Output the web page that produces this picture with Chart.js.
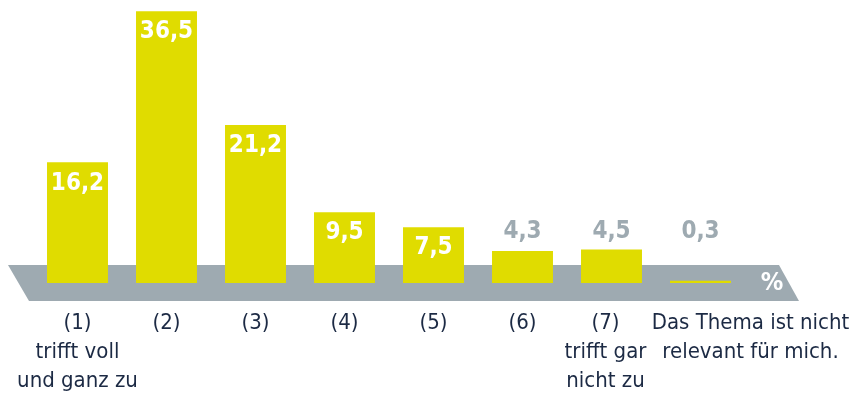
<!DOCTYPE html>
<html lang="de">
<head>
<meta charset="utf-8">
<script src="https://cdn.jsdelivr.net/npm/chart.js@4"></script>
<style>
    html, body { margin: 0; padding: 0; background: #ffffff; }
    canvas { display: block; }
</style>
</head>
<body>
<canvas id="myChart" width="863" height="394"></canvas>
<script>
// 응답 분포 (%)
const categories = ['(1)', '(2)', '(3)', '(4)', '(5)', '(6)', '(7)', 'n/a'];
const values = [16.2, 36.5, 21.2, 9.5, 7.5, 4.3, 4.5, 0.3];
const tickLabels = [
    ['(1)', 'trifft voll', 'und ganz zu'],
    ['(2)'],
    ['(3)'],
    ['(4)'],
    ['(5)'],
    ['(6)'],
    ['(7)', 'trifft gar', 'nicht zu'],
    ['Das Thema ist nicht', 'relevant für mich.']
];
const unitLabel = '%';

const yellow = '#e0dc00';
const grey = '#9eaab1';
const navy = '#1c2a44';
const fontFamily = '"DejaVu Sans Condensed", "Liberation Sans Narrow", "Roboto", sans-serif';

function formatValue(v) {
    return v.toFixed(1).replace('.', ',');
}

// 막대 뒤 회색 평행사변형 밴드
const bandPlugin = {
    id: 'band',
    beforeDatasetsDraw(chart) {
        const { ctx, scales: { x, y } } = chart;
        const base = y.getPixelForValue(0);
        const top = base - 18, bottom = base + 18;
        ctx.save();
        ctx.fillStyle = grey;
        ctx.beginPath();
        ctx.moveTo(x.left - 25, top);
        ctx.lineTo(x.right + 34, top);
        ctx.lineTo(x.right + 54, bottom);
        ctx.lineTo(x.left - 4, bottom);
        ctx.closePath();
        ctx.fill();

        ctx.fillStyle = '#ffffff';
        ctx.font = 'bold 25px ' + fontFamily;
        ctx.textAlign = 'center';
        ctx.textBaseline = 'middle';
        ctx.fillText(unitLabel, x.right + 27, base);
        ctx.restore();
    }
};

// 값 라벨 + 카테고리 라벨
const labelPlugin = {
    id: 'labels',
    afterDatasetsDraw(chart) {
        const { ctx, scales: { x, y } } = chart;
        const meta = chart.getDatasetMeta(0);
        const base = y.getPixelForValue(0);
        ctx.save();
        ctx.textAlign = 'center';
        ctx.textBaseline = 'middle';

        ctx.font = 'bold 24px ' + fontFamily;
        meta.data.forEach((bar, i) => {
            const v = values[i];
            if (v >= 5) {
                ctx.fillStyle = '#ffffff';
                ctx.fillText(formatValue(v), bar.x, bar.y + 21);
            } else {
                ctx.fillStyle = grey;
                ctx.fillText(formatValue(v), bar.x, base - 51);
            }
        });

        ctx.fillStyle = navy;
        ctx.font = '22px ' + fontFamily;
        tickLabels.forEach((lines, i) => {
            let cx = x.getPixelForValue(i);
            if (i === tickLabels.length - 1) cx += 50;
            if (i === tickLabels.length - 2) cx -= 6;
            lines.forEach((line, j) => {
                ctx.fillText(line, cx, base + 40 + j * 29);
            });
        });
        ctx.restore();
    }
};

const ctx = document.getElementById('myChart').getContext('2d');
new Chart(ctx, {
    type: 'bar',
    data: {
        labels: categories,
        datasets: [{
            data: values,
            backgroundColor: yellow,
            borderWidth: 0,
            barPercentage: 0.685,
            categoryPercentage: 1
        }]
    },
    options: {
        responsive: false,
        animation: false,
        layout: { padding: { left: 33, right: 118, top: 0, bottom: 111 } },
        scales: {
            x: { display: false },
            y: { display: false, min: 0, max: 38 }
        },
        plugins: {
            legend: { display: false },
            tooltip: { enabled: false }
        }
    },
    plugins: [bandPlugin, labelPlugin]
});
</script>
</body>
</html>
